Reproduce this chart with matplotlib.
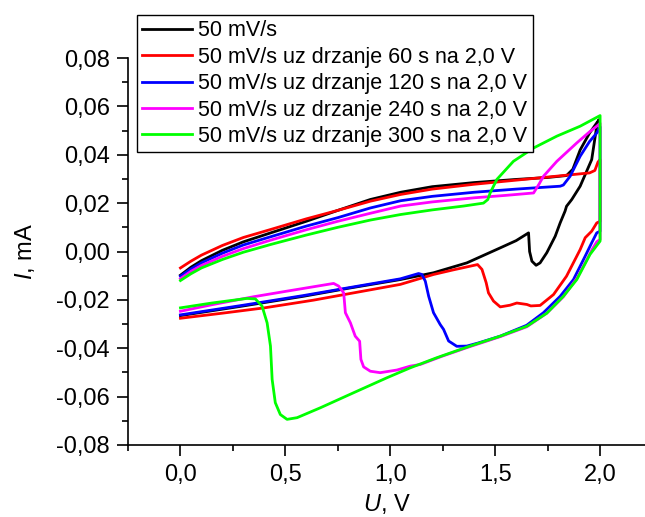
import matplotlib
matplotlib.use("Agg")
import matplotlib.pyplot as plt
from matplotlib.ticker import MultipleLocator, FuncFormatter

plt.rcParams['font.family'] = ['Liberation Sans', 'DejaVu Sans']
plt.rcParams['mathtext.fontset'] = 'custom'
plt.rcParams['mathtext.it'] = 'Liberation Sans:italic'
plt.rcParams['mathtext.rm'] = 'Liberation Sans'

labels = ["50 mV/s",
          "50 mV/s uz drzanje 60 s na 2,0 V",
          "50 mV/s uz drzanje 120 s na 2,0 V",
          "50 mV/s uz drzanje 240 s na 2,0 V",
          "50 mV/s uz drzanje 300 s na 2,0 V"]
colors = ["#000000", "#FF0000", "#0000FF", "#FF00FF", "#00FF00"]

# black: 50 mV/s
black_u = [0.0, 0.05, 0.1, 0.2, 0.3, 0.43, 0.6, 0.75, 0.905, 1.05, 1.2, 1.4, 1.6, 1.75, 1.84, 1.87, 1.905, 1.95, 1.995,
           1.984, 1.96, 1.905, 1.865, 1.84, 1.833, 1.81, 1.786, 1.746, 1.714, 1.695, 1.675, 1.664, 1.659,
           1.6, 1.524, 1.365, 1.206, 1.048, 0.8, 0.587, 0.3, 0.0]
black_i = [-0.0098, -0.0065, -0.0038, 0.0005, 0.0040, 0.0077, 0.0125, 0.0170, 0.0215, 0.0245, 0.0268, 0.0285, 0.0298, 0.0306, 0.0314, 0.0340, 0.0420, 0.0490, 0.0545,
           0.0518, 0.0380, 0.0270, 0.0215, 0.0187, 0.0167, 0.0119, 0.0063, -0.0005, -0.0047, -0.0057, -0.0040, 0.0000, 0.0077,
           0.0045, 0.0015, -0.0047, -0.0088, -0.0116, -0.0152, -0.0185, -0.0225, -0.0265]

# red: hold 60 s
red_u = [0.0, 0.05, 0.1, 0.2, 0.3, 0.43, 0.6, 0.75, 0.905, 1.05, 1.2, 1.4, 1.6, 1.8, 1.95, 1.975, 1.99, 2.0,
         2.0, 1.984, 1.96, 1.929, 1.905, 1.84, 1.778, 1.714, 1.67, 1.651, 1.603, 1.571, 1.524, 1.492, 1.468, 1.457,
         1.437, 1.416, 1.3, 1.206, 1.048, 0.8, 0.635, 0.4, 0.2, 0.0]
red_i = [-0.0068, -0.0040, -0.0015, 0.0025, 0.0058, 0.0091, 0.0135, 0.0170, 0.0208, 0.0236, 0.0258, 0.0278, 0.0295, 0.0312, 0.0325, 0.0335, 0.0370, 0.0380,
         0.0125, 0.0118, 0.0084, 0.0057, 0.0008, -0.0102, -0.0178, -0.0223, -0.0225, -0.0219, -0.0213, -0.0222, -0.0229, -0.0205, -0.0171, -0.0129,
         -0.0074, -0.0054, -0.0076, -0.0095, -0.0136, -0.0175, -0.0201, -0.0233, -0.0255, -0.0276]

# blue: hold 120 s
blue_u = [0.0, 0.05, 0.1, 0.2, 0.3, 0.43, 0.6, 0.75, 0.905, 1.05, 1.2, 1.4, 1.6, 1.81, 1.825, 1.857, 1.905, 1.95, 1.984, 2.0,
          2.0, 1.984, 1.96, 1.929, 1.873, 1.81, 1.73, 1.65, 1.524, 1.42, 1.365, 1.317, 1.278, 1.254, 1.238, 1.206,
          1.183, 1.167, 1.151, 1.135, 1.048, 0.8, 0.587, 0.3, 0.0]
blue_i = [-0.0102, -0.0072, -0.0047, -0.0007, 0.0027, 0.0061, 0.0105, 0.0140, 0.0180, 0.0210, 0.0228, 0.0245, 0.0258, 0.0270, 0.0275, 0.0311, 0.0394, 0.0455, 0.0490, 0.0515,
          0.0084, 0.0077, 0.0036, -0.0019, -0.0116, -0.0185, -0.0253, -0.0305, -0.0350, -0.0378, -0.0391, -0.0392, -0.0370, -0.0322, -0.0302, -0.0253,
          -0.0185, -0.0123, -0.0095, -0.0091, -0.0113, -0.0150, -0.0182, -0.0222, -0.0262]

# magenta: hold 240 s
mag_u = [0.0, 0.05, 0.1, 0.2, 0.3, 0.43, 0.6, 0.75, 0.905, 1.05, 1.2, 1.4, 1.55, 1.683, 1.71, 1.73, 1.794, 1.889, 1.95, 1.984, 2.0,
         2.0, 1.984, 1.96, 1.93, 1.89, 1.825, 1.746, 1.651, 1.524, 1.38, 1.25, 1.143, 1.095, 1.032, 0.952, 0.905,
         0.873, 0.860, 0.854, 0.833, 0.810, 0.786, 0.778, 0.754, 0.730, 0.5, 0.349, 0.15, 0.0]
mag_i = [-0.0112, -0.0082, -0.0058, -0.0020, 0.0012, 0.0047, 0.0090, 0.0125, 0.0158, 0.0188, 0.0205, 0.0222, 0.0232, 0.0242, 0.0280, 0.0311, 0.0373, 0.0449, 0.0495, 0.0518, 0.0530,
         0.0050, 0.0040, 0.0005, -0.0045, -0.0110, -0.0187, -0.0255, -0.0311, -0.0352, -0.0393, -0.0432, -0.0467, -0.0474, -0.0490, -0.0501, -0.0495,
         -0.0477, -0.0446, -0.0371, -0.0350, -0.0295, -0.0253, -0.0171, -0.0143, -0.0132, -0.0165, -0.0187, -0.0220, -0.0247]

# green: hold 300 s
green_u = [0.0, 0.05, 0.1, 0.2, 0.3, 0.43, 0.6, 0.75, 0.905, 1.05, 1.2, 1.35, 1.444, 1.465, 1.476, 1.508, 1.587, 1.683, 1.794, 1.905, 2.0,
           2.0, 1.952, 1.889, 1.825, 1.746, 1.651, 1.524, 1.38, 1.222, 1.095, 0.984, 0.825, 0.667, 0.556, 0.508,
           0.476, 0.452, 0.437, 0.429, 0.413, 0.389, 0.357, 0.317, 0.15, 0.0]
green_i = [-0.0120, -0.0092, -0.0068, -0.0033, -0.0003, 0.0029, 0.0068, 0.0100, 0.0130, 0.0153, 0.0172, 0.0188, 0.0200, 0.0215, 0.0242, 0.0298, 0.0373, 0.0428, 0.0477, 0.0518, 0.0562,
           0.0043, -0.0012, -0.0116, -0.0185, -0.0255, -0.0309, -0.0350, -0.0391, -0.0439, -0.0481, -0.0522, -0.0584, -0.0646, -0.0687, -0.0694,
           -0.0674, -0.0625, -0.0529, -0.0391, -0.0295, -0.0226, -0.0196, -0.0194, -0.0213, -0.0233]

series = [(black_u, black_i), (red_u, red_i), (blue_u, blue_i), (mag_u, mag_i), (green_u, green_i)]

W, H = 645, 517
fig = plt.figure(figsize=(W / 100, H / 100), dpi=100)
ax = fig.add_axes([128 / W, 1 - 445 / H, (645 - 128) / W, (445 - 58) / H])

for (u, i), c, lab in zip(series, colors, labels):
    ax.plot(u, i, color=c, lw=2.0, label=lab, solid_joinstyle='round')

ax.set_xlim(-0.25, 2.214)
ax.set_ylim(-0.08, 0.08)
ax.spines['top'].set_visible(False)
ax.spines['right'].set_visible(False)
for s in ('left', 'bottom'):
    ax.spines[s].set_linewidth(1.2)

ax.xaxis.set_major_locator(MultipleLocator(0.5))
ax.xaxis.set_minor_locator(MultipleLocator(0.25))
ax.yaxis.set_major_locator(MultipleLocator(0.02))
ax.yaxis.set_minor_locator(MultipleLocator(0.01))

def fx(v, pos):
    if v < -0.01:
        return ''
    return '{:.1f}'.format(v).replace('.', ',')

def fy(v, pos):
    s = '{:.2f}'.format(v).replace('.', ',')
    if s == '-0,00':
        s = '0,00'
    return s

ax.xaxis.set_major_formatter(FuncFormatter(fx))
ax.yaxis.set_major_formatter(FuncFormatter(fy))
ax.tick_params(which='major', direction='out', length=8, width=1.2, labelsize=17, pad=5)
ax.tick_params(which='minor', direction='out', length=4.5, width=1.2)
ax.tick_params(axis='x', which='major', pad=6)

ax.set_xlabel(r'$\it{U}$, V', fontsize=17, labelpad=4)
ax.set_ylabel(r'$\it{I}$, mA', fontsize=17, labelpad=14)

leg = ax.legend(loc='upper left', bbox_to_anchor=(137 / W, 1 - 15 / H), bbox_transform=fig.transFigure,
                fontsize=15.5, frameon=True, fancybox=False, framealpha=1, edgecolor='black',
                borderaxespad=0, borderpad=0.25, handlelength=2.3, handletextpad=0.3, labelspacing=0.25)
leg.get_frame().set_linewidth(1.0)

fig.savefig('out.png', dpi=100)
